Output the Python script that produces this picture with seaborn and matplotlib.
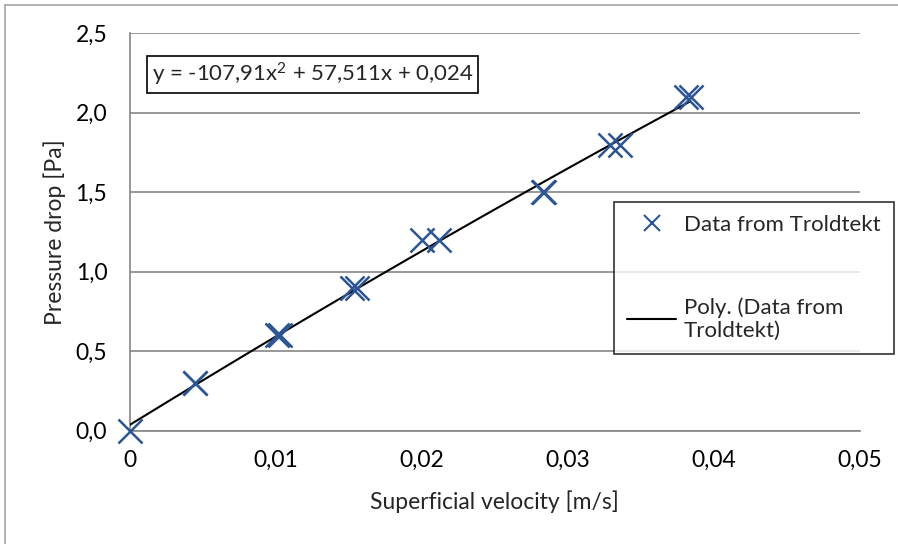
import matplotlib
matplotlib.use("Agg")
import matplotlib.pyplot as plt
import seaborn as sns
import pandas as pd
from matplotlib.lines import Line2D

# ---- data ----
velocity = [0.0, 0.0045, 0.0045, 0.0101, 0.0103, 0.0152, 0.0156, 0.0200, 0.0212,
            0.0283, 0.0284, 0.0329, 0.0336, 0.0381, 0.0384]
pressure = [0.0, 0.3, 0.3, 0.6, 0.6, 0.9, 0.9, 1.2, 1.2,
            1.5, 1.5, 1.8, 1.8, 2.1, 2.1]
x_ticks = [0, 0.01, 0.02, 0.03, 0.04, 0.05]
x_tick_labels = ["0", "0,01", "0,02", "0,03", "0,04", "0,05"]
y_ticks = [0.0, 0.5, 1.0, 1.5, 2.0, 2.5]
y_tick_labels = ["0,0", "0,5", "1,0", "1,5", "2,0", "2,5"]
equation = "y = -107,91x$^{2}$ + 57,511x + 0,024"
series_label = "Data from Troldtekt"
trend_label = "Poly. (Data from\nTroldtekt)"

df = pd.DataFrame({"velocity": velocity, "pressure": pressure})

sns.set_theme(style="white")
plt.rcParams["font.family"] = ["Lato", "DejaVu Sans"]
plt.rcParams["mathtext.fontset"] = "custom"
plt.rcParams["mathtext.rm"] = "Lato"
plt.rcParams["mathtext.default"] = "rm"

W, H = 898, 544
fig = plt.figure(figsize=(W / 100, H / 100), dpi=100)
L, R, T, B = 129.5, 860, 33.3, 430.7
ax = fig.add_axes([L / W, 1 - B / H, (R - L) / W, (B - T) / H])

grey = "#868686"
blue = "#2C5591"
FS = 16.5

sns.regplot(data=df, x="velocity", y="pressure", order=2, ci=None, scatter=False,
            truncate=True, ax=ax, line_kws=dict(color="black", lw=1.5, zorder=3))
sns.scatterplot(data=df, x="velocity", y="pressure", marker="x", s=300,
                color=blue, linewidth=1.8, ax=ax, zorder=4, legend=False)

ax.set_xlim(0, 0.05)
ax.set_ylim(0, 2.5)
ax.set_xticks(x_ticks)
ax.set_xticklabels(x_tick_labels)
ax.set_yticks(y_ticks)
ax.set_yticklabels(y_tick_labels)
ax.tick_params(axis="both", labelsize=FS, colors=grey, labelcolor="black",
               length=6, width=1.2, direction="out")
ax.tick_params(axis="y", pad=10)
ax.tick_params(axis="x", pad=8)
ax.yaxis.grid(True, color=grey, lw=1.2)
ax.xaxis.grid(False)
for s in ["top", "right"]:
    ax.spines[s].set_visible(False)
for s in ["left", "bottom"]:
    ax.spines[s].set_color(grey)
    ax.spines[s].set_linewidth(1.2)
for c in ax.collections:
    c.set_clip_on(False)

ax.set_xlabel("Superficial velocity [m/s]", fontsize=FS)
ax.set_ylabel("Pressure drop [Pa]", fontsize=FS)
ax.xaxis.set_label_coords(0.5, -(501.7 - B) / (B - T), transform=ax.transAxes)
ax.yaxis.set_label_coords(-(L - 55) / (R - L), 0.5, transform=ax.transAxes)
ax.xaxis.label.set_verticalalignment("center")
ax.yaxis.label.set_verticalalignment("center")

# equation box
fig.text(151.7 / W, 1 - 74.5 / H, equation, fontsize=16, va="center", ha="left",
         bbox=dict(boxstyle="square,pad=0.22", fc="white", ec="black", lw=1.2))

# legend
handles = [Line2D([], [], marker="x", ls="none", color=blue, markersize=11, mew=1.5),
           Line2D([], [], color="black", lw=1.5)]
leg = fig.legend(handles, [series_label, trend_label], fontsize=16,
                 loc="upper right", bbox_to_anchor=(894 / W, 1 - 201.7 / H),
                 frameon=True, fancybox=False, edgecolor="black",
                 handlelength=2.2, handletextpad=0.35, labelspacing=2.8,
                 borderpad=0.6, borderaxespad=0)
leg.get_frame().set_linewidth(1.2)

# chart area border (only left/top visible in reference)
fig.add_artist(Line2D([5 / W, 5 / W], [0, 1 - 5 / H], color="#a6a6a6", lw=1.2,
                      transform=fig.transFigure))
fig.add_artist(Line2D([5 / W, 1], [1 - 5 / H, 1 - 5 / H], color="#a6a6a6", lw=1.2,
                      transform=fig.transFigure))

fig.savefig("out.png", dpi=100)
